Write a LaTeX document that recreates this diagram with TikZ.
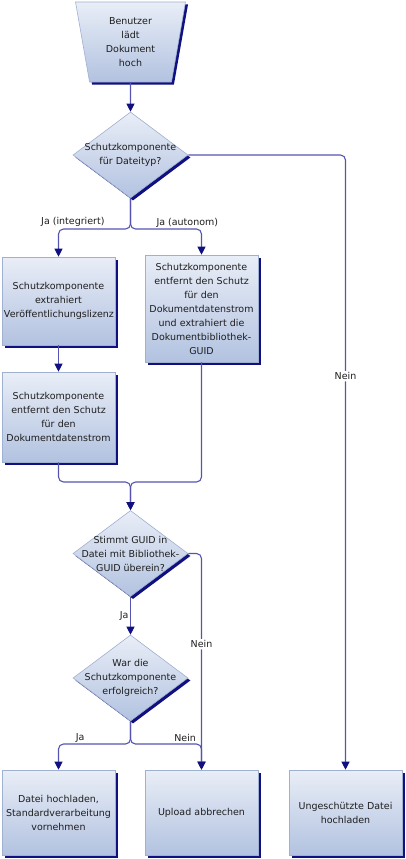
\documentclass[tikz,border=0pt]{standalone}
\usepackage{fontspec}
\setmainfont{DejaVu Sans}
\usetikzlibrary{shapes.geometric, shadows, arrows.meta}

\begin{document}
\begin{tikzpicture}[x=1pt, y=-1pt,
  font=\fontsize{9.5}{14}\selectfont,
  base/.style={draw=boxline, line width=0.6pt, top color=boxtop, bottom color=boxbottom, text=textgray,
    drop shadow={shadow xshift=2.5pt, shadow yshift=-2.5pt, fill=shadownavy, opacity=1}},
  proc/.style={base, rectangle, minimum width=113, minimum height=88, text width=109, align=center, inner sep=2},
  decision/.style={base, diamond, minimum width=115, minimum height=86, inner sep=0},
  start/.style={base, trapezium, trapezium angle=74, trapezium stretches body, shape border rotate=180,
    minimum width=110, minimum height=80, align=center, inner sep=0},
  dtext/.style={text=textgray, align=center, inner sep=0},
  lbl/.style={text=textgray, inner sep=1.5},
  flow/.style={draw=linecolor, line width=1.1pt, rounded corners=5},
  arrow/.style={flow, -{Triangle[length=8pt, width=8pt, color=shadownavy]}}]

% Define colors
\definecolor{boxtop}{RGB}{233,238,247}
\definecolor{boxbottom}{RGB}{178,194,224}
\definecolor{boxline}{RGB}{160,176,208}
\definecolor{shadownavy}{RGB}{16,16,128}
\definecolor{linecolor}{RGB}{84,84,176}
\definecolor{textgray}{RGB}{30,30,30}

% Fix page size
\useasboundingbox (0,0) rectangle (406,859);

% Draw start shape
\node[start] (upload) at (130.5,42) {Benutzer\\lädt\\Dokument\\hoch};

% Draw first decision
\node[decision, label={[dtext]center:Schutzkomponente\\für Dateityp?}] (dtype) at (130.5,155) {};

% Draw middle boxes
\node[proc] (extract) at (58.5,301) {Schutzkomponente\\extrahiert\\Veröffentlichungslizenz};
\node[proc, minimum height=107] (unprotGuid) at (201.5,308.5) {Schutzkomponente\\entfernt den Schutz\\für den\\Dokumentdatenstrom\\und extrahiert die\\Dokumentbibliothek-\\GUID};
\node[proc, minimum height=90] (unprot) at (58.5,417) {Schutzkomponente\\entfernt den Schutz\\für den\\Dokumentdatenstrom};

% Draw lower decisions
\node[decision, label={[dtext]center:Stimmt GUID in\\Datei mit Bibliothek-\\GUID überein?}] (guid) at (130.5,553.5) {};
\node[decision, label={[dtext]center:War die\\Schutzkomponente\\erfolgreich?}] (success) at (130.5,678) {};

% Draw end boxes
\node[proc, minimum height=85] (process) at (58.5,812.5) {Datei hochladen,\\Standardverarbeitung\\vornehmen};
\node[proc, minimum height=85] (abort) at (201.5,812.5) {Upload abbrechen};
\node[proc, minimum height=85] (plain) at (345.5,812.5) {Ungeschützte Datei\\hochladen};

% Fork and merge points
\coordinate (fork1) at (130.5,229);
\coordinate (merge) at (130.5,482);
\coordinate (fork2) at (130.5,744);

% Draw connectors
\draw[arrow] (upload.south) -- (dtype.north);
\draw[arrow] (dtype.east) -| node[lbl, fill=white, pos=0.68] {Nein} (plain.north);
\draw[arrow] (dtype.south) -- (fork1) -| node[lbl, pos=0.4, above] {Ja (integriert)} (extract.north);
\draw[arrow] (dtype.south) -- (fork1) -| node[lbl, pos=0.4, above] {Ja (autonom)} (unprotGuid.north);
\draw[arrow] (extract) -- (unprot);
\draw[arrow] (unprot.south) |- (merge) -- (guid.north);
\draw[arrow] (unprotGuid.south) |- (merge) -- (guid.north);
\draw[arrow] (guid.east) -| node[lbl, fill=white, pos=0.71] {Nein} (abort.north);
\draw[arrow] (guid) -- node[lbl, left] {Ja} (success);
\draw[arrow] (success.south) -- (fork2) -| node[lbl, pos=0.35, above] {Ja} (process.north);
\draw[arrow] (success.south) -- (fork2) -| node[lbl, pos=0.385, above] {Nein} (abort.north);

\end{tikzpicture}
\end{document}
